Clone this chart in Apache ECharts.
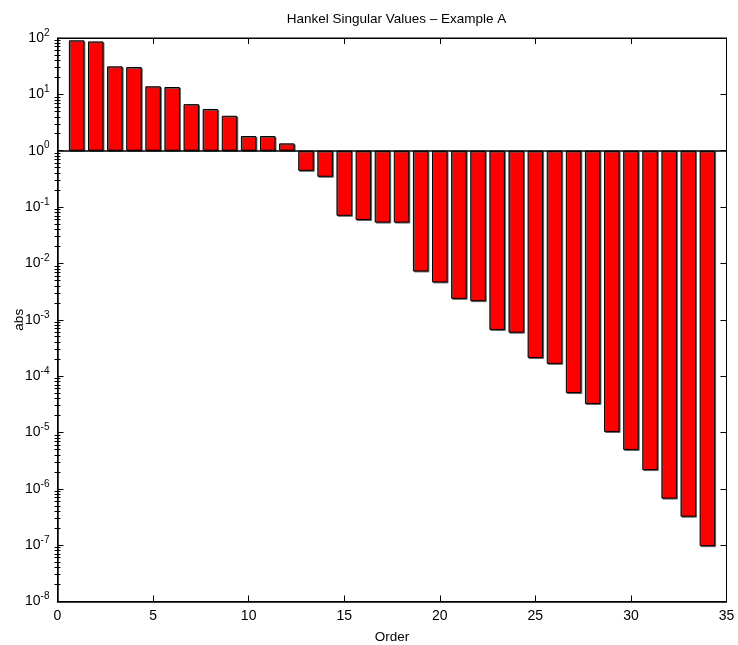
<!DOCTYPE html>
<html>
<head>
<meta charset="utf-8">
<script src="https://cdn.jsdelivr.net/npm/echarts@6/dist/echarts.min.js"></script>
<style>
  html, body { margin: 0; padding: 0; background: #fff; }
  #chart { width: 738px; height: 645px; }
</style>
</head>
<body>
<div id="chart"></div>
<script>
// Hankel singular values
const order = [1, 2, 3, 4, 5, 6, 7, 8, 9, 10, 11, 12, 13, 14, 15, 16, 17,
  18, 19, 20, 21, 22, 23, 24, 25, 26, 27, 28, 29, 30, 31, 32, 33, 34]
const hsv = [91, 87, 31.4, 30.5, 13.9, 13.5, 6.7, 5.5, 4.17, 1.82, 1.82, 1.35,
  0.44, 0.345, 0.070, 0.059, 0.053, 0.053, 0.0072, 0.0046, 0.00235, 0.00214,
  6.6e-4, 5.9e-4, 2.1e-4, 1.65e-4, 5.0e-5, 3.2e-5, 1.02e-5, 4.9e-6, 2.15e-6,
  6.7e-7, 3.2e-7, 9.6e-8]
const xTicks = [0, 5, 10, 15, 20, 25, 30, 35]
const decades = [-8, -7, -6, -5, -4, -3, -2, -1, 0, 1, 2]
const minorSteps = [2, 3, 4, 5, 6, 7, 8, 9]

const FONT = '"Liberation Sans", Arial, Helvetica, sans-serif'

// minor tick positions in exponent space for the helper axes
const minorExp = []
decades.slice(0, -1).forEach((d) => {
  minorSteps.forEach((m) => minorExp.push(d + Math.log10(m)))
})

const chart = echarts.init(document.getElementById('chart'))

function helperY(position, values, len) {
  return {
    type: 'value',
    position,
    min: -8,
    max: 2,
    axisLine: { show: false },
    splitLine: { show: false },
    axisLabel: { show: false },
    axisTick: {
      show: true,
      inside: true,
      length: len,
      customValues: values,
      lineStyle: { color: '#000', width: 1 },
    },
  }
}

const option = {
  animation: false,
  backgroundColor: '#fff',
  title: {
    text: 'Hankel Singular Values \u2013 Example A',
    left: 391.5,
    top: 7,
    textAlign: 'center',
    textStyle: { fontFamily: FONT, fontSize: 13.5, fontWeight: 'normal', color: '#000' },
  },
  grid: {
    left: 57.5,
    right: 11.5,
    top: 38,
    bottom: 43.5,
    outerBoundsMode: 'none',
    containLabel: false,
    show: true,
    borderColor: '#000',
    borderWidth: 1,
  },
  xAxis: [
    {
      type: 'value',
      position: 'bottom',
      min: 0,
      max: 35,
      interval: 5,
      name: 'Order',
      nameLocation: 'middle',
      nameGap: 29,
      nameMoveOverlap: false,
      nameTextStyle: { fontFamily: FONT, fontSize: 13.5, color: '#000' },
      axisLine: { show: true, onZero: false, lineStyle: { color: '#000', width: 1.5 } },
      axisTick: { show: true, inside: true, length: 6, lineStyle: { color: '#000' } },
      axisLabel: {
        fontFamily: FONT, fontSize: 14, color: '#000', margin: 8,
        customValues: xTicks,
      },
      splitLine: { show: false },
    },
    {
      type: 'value',
      position: 'top',
      min: 0,
      max: 35,
      interval: 5,
      axisLine: { show: true, onZero: false, lineStyle: { color: '#000', width: 1 } },
      axisTick: { show: true, inside: true, length: 6, lineStyle: { color: '#000' } },
      axisLabel: { show: false },
      splitLine: { show: false },
    },
  ],
  yAxis: [
    {
      type: 'log',
      logBase: 10,
      position: 'left',
      min: 1e-8,
      max: 100,
      interval: 1,
      name: 'abs',
      nameLocation: 'middle',
      nameRotate: 90,
      nameGap: 31,
      nameMoveOverlap: false,
      nameTextStyle: { fontFamily: FONT, fontSize: 13.5, color: '#000' },
      axisLine: { show: true, onZero: false, lineStyle: { color: '#000', width: 1.5 } },
      axisTick: { show: true, inside: true, length: 6, lineStyle: { color: '#000' } },
      splitLine: { show: false },
      axisLabel: {
        color: '#000',
        margin: 8,
        formatter: (v) => '{b|10}{s|' + Math.round(Math.log10(v)) + '}',
        rich: {
          b: { fontFamily: FONT, fontSize: 14, color: '#000' },
          s: { fontFamily: FONT, fontSize: 10, color: '#000', verticalAlign: 'bottom', padding: [0, 0, 10, 0] },
        },
      },
    },
    {
      type: 'log',
      logBase: 10,
      position: 'right',
      min: 1e-8,
      max: 100,
      interval: 1,
      axisLine: { show: true, onZero: false, lineStyle: { color: '#000', width: 1 } },
      axisTick: { show: true, inside: true, length: 6, lineStyle: { color: '#000' } },
      axisLabel: { show: false },
      splitLine: { show: false },
    },
    helperY('left', minorExp, 3),
    helperY('right', minorExp, 3),
  ],
  series: [
    {
      type: 'bar',
      xAxisIndex: 0,
      yAxisIndex: 0,
      barWidth: 15.5,
      data: order.map((o, i) => [o, hsv[i]]),
      itemStyle: {
        color: '#ff0000',
        borderColor: '#000',
        borderWidth: 1,
        shadowColor: 'rgba(90,90,90,0.9)',
        shadowOffsetX: 1,
        shadowOffsetY: 1,
        shadowBlur: 0,
      },
      markLine: {
        silent: true,
        symbol: 'none',
        label: { show: false },
        lineStyle: { color: '#000', width: 1.5, type: 'solid' },
        data: [{ yAxis: 1 }],
      },
    },
  ],
}

chart.setOption(option)
</script>
</body>
</html>
